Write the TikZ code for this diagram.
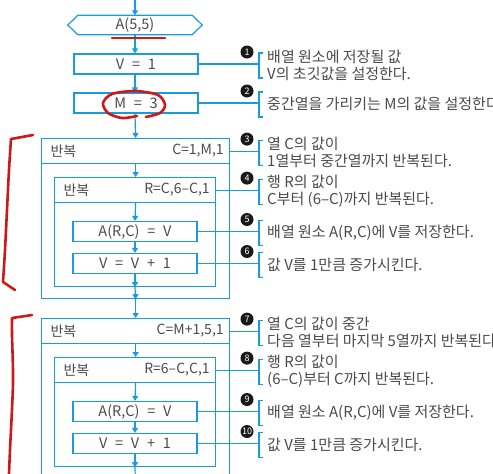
\documentclass[tikz,border=0pt]{standalone}
\usepackage{fontspec}
\setmainfont{Noto Sans CJK KR}
\newfontfamily\boxfont[WordSpace=2.4]{Noto Sans CJK KR}
\usetikzlibrary{arrows.meta}
\definecolor{flowblue}{RGB}{25,155,220}
\definecolor{inkgray}{RGB}{75,75,75}
\definecolor{penred}{RGB}{205,25,25}
\begin{document}
\begin{tikzpicture}[x=1pt,y=-1pt,font=\fontsize{14}{17}\selectfont,text=inkgray]
	\tikzstyle{flow}=[draw=flowblue,line width=1.2pt]
	\tikzstyle{proc box}=[flow,minimum width=124,minimum height=20,inner sep=0,font=\boxfont\fontsize{14.5}{17}\selectfont]
	\tikzstyle{head box}=[flow,minimum height=25,inner sep=0,anchor=north west]
	\tikzstyle{flow arrow}=[draw=flowblue,line width=1.2pt,-{Triangle[length=5pt,width=6pt]}]
	\tikzstyle{num}=[circle,fill=black!90,text=white,inner sep=0,minimum size=13,font=\fontsize{9}{9}\selectfont]
	\tikzstyle{note}=[anchor=west,align=left,inner sep=0,font=\fontsize{15}{17}\selectfont]
	\tikzstyle{pen}=[draw=penred,line width=2.6pt,line cap=round,line join=round]
	\clip (0,0) rectangle (493,474);
	\fill[white] (0,0) rectangle (493,474);
	% start and set-up
	\coordinate (start) at (135,0);
	\node[minimum width=114,minimum height=19,inner sep=0,font=\boxfont\fontsize{14.5}{17}\selectfont] (arr) at (135,25) {A(5,5)};
	\draw[flow] (arr.north west) -- (arr.north east) -- ([xshift=10pt]arr.east) -- (arr.south east)
		-- (arr.south west) -- ([xshift=-10pt]arr.west) -- cycle;
	\node[proc box] (v1) at (136,64) {V = 1};
	\node[proc box] (m3) at (136,103) {M = 3};
	% first loop
	\node[flow,minimum width=188,minimum height=160,inner sep=0,anchor=north west] (loop1) at (41,138) {};
	\node[head box,minimum width=188] (h1) at (41,138) {};
	\node[anchor=west] (h1l) at ([xshift=6pt]h1.west) {반복};
	\node[anchor=east] (h1r) at ([xshift=-3pt]h1.east) {C=1,M,1};
	\node[flow,minimum width=161,minimum height=109,inner sep=0,anchor=north west] (in1) at (54,177) {};
	\node[head box,minimum width=161] (g1) at (54,177) {};
	\node[anchor=west] (g1l) at ([xshift=6pt]g1.west) {반복};
	\node[anchor=east] (g1r) at ([xshift=-3pt]g1.east) {R=C,6–C,1};
	\node[proc box] (a1) at (135,231.5) {A(R,C) = V};
	\node[proc box] (b1) at (135,263.5) {V = V + 1};
	% second loop
	\node[flow,minimum width=188,minimum height=172,inner sep=0,anchor=north west] (loop2) at (41,318) {};
	\node[head box,minimum width=188] (h2) at (41,318) {};
	\node[anchor=west] (h2l) at ([xshift=6pt]h2.west) {반복};
	\node[anchor=east] (h2r) at ([xshift=-3pt]h2.east) {C=M+1,5,1};
	\node[flow,minimum width=161,minimum height=109,inner sep=0,anchor=north west] (in2) at (54,357) {};
	\node[head box,minimum width=161] (g2) at (54,357) {};
	\node[anchor=west] (g2l) at ([xshift=6pt]g2.west) {반복};
	\node[anchor=east] (g2r) at ([xshift=-3pt]g2.east) {R=6–C,C,1};
	\node[proc box] (a2) at (135,411.5) {A(R,C) = V};
	\node[proc box] (b2) at (135,443.5) {V = V + 1};
	% flow
	\draw[flow arrow] (start) -- (arr.north);
	\draw[flow arrow] (arr.south) -- (v1.north -| arr.south);
	\draw[flow arrow] (v1.south -| arr.south) -- (m3.north -| arr.south);
	\draw[flow arrow] (m3.south -| arr.south) -- (loop1.north);
	\draw[flow arrow] (h1.south) -- (in1.north -| h1.south);
	\draw[flow arrow] (g1.south -| h1.south) -- (a1.north);
	\draw[flow arrow] (a1.south) -- (b1.north);
	\draw[flow arrow] (b1.south) -- (in1.south -| b1.south);
	\draw[flow arrow] (in1.south -| b1.south) -- (loop1.south);
	\draw[flow arrow] (loop1.south) -- (loop2.north);
	\draw[flow arrow] (h2.south) -- (in2.north -| h2.south);
	\draw[flow arrow] (g2.south -| h2.south) -- (a2.north);
	\draw[flow arrow] (a2.south) -- (b2.north);
	\draw[flow arrow] (b2.south) -- (in2.south -| b2.south);
	\draw[flow arrow] (in2.south -| b2.south) -- (loop2.south);
	% notes
	\coordinate (bx) at (259,0);
	\foreach \src/\n/\txt in {v1/1/{배열 원소에 저장될 값\\V의 초깃값을 설정한다.},
		m3/2/{중간열을 가리키는 M의 값을 설정한다.},
		h1/3/{열 C의 값이\\1열부터 중간열까지 반복된다.},
		g1/4/{행 R의 값이\\C부터 (6–C)까지 반복된다.},
		a1/5/{배열 원소 A(R,C)에 V를 저장한다.},
		b1/6/{값 V를 1만큼 증가시킨다.},
		h2/7/{열 C의 값이 중간\\다음 열부터 마지막 5열까지 반복된다},
		g2/8/{행 R의 값이\\(6–C)부터 C까지 반복된다.},
		a2/9/{배열 원소 A(R,C)에 V를 저장한다.},
		b2/10/{값 V를 1만큼 증가시킨다.}}{
		\coordinate (k\n) at (\src.east -| bx);
		\draw[flow] (\src.east) -- (k\n);
		\draw[flow] ([xshift=3.5pt,yshift=11pt]k\n) -- ([yshift=11pt]k\n) -- ([yshift=-14pt]k\n) -- ([xshift=3.5pt,yshift=-14pt]k\n);
		\node[num] (n\n) at ([xshift=-12pt,yshift=12pt]k\n) {\n};
		\node[note] (t\n) at ([xshift=8pt,yshift=-1pt]k\n) {\txt};
	}
	% red pen marks
	\draw[pen] (112,38) -- (165,38);
	\draw[pen] plot[smooth] coordinates {(146,117) (160,113) (165,105) (158,95) (135,91) (112,94) (103,103) (108,113) (122,118) (137,116)};
	\draw[pen] (33,135) -- (11,139) -- plot[smooth] coordinates {(11,139) (9,170) (7,210) (5,250) (3,282)} -- (15,290);
	\draw[pen] (32,315) -- (12,318) -- plot[smooth] coordinates {(12,318) (12,335) (13,383) (10,450) (9,474)};
\end{tikzpicture}
\end{document}
